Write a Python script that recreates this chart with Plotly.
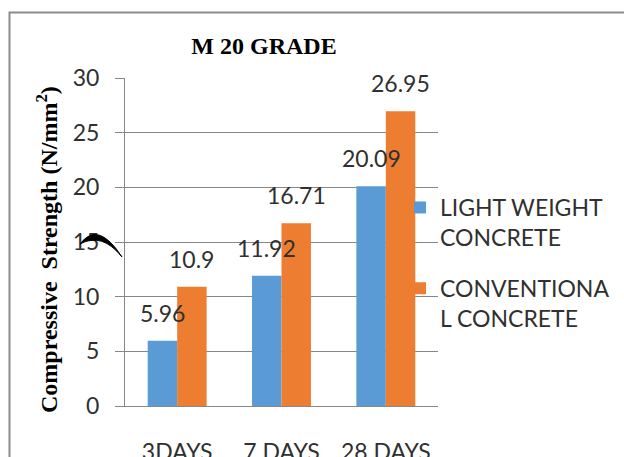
import plotly.graph_objects as go

categories = ["3DAYS", "7 DAYS", "28 DAYS"]
light_weight = [5.96, 11.92, 20.09]
conventional = [10.9, 16.71, 26.95]
series_names = ["LIGHT WEIGHT<br>CONCRETE", "CONVENTIONA<br>L CONCRETE"]
series_colors = ["#5B9BD5", "#ED7D31"]
y_ticks = [0, 5, 10, 15, 20, 25, 30]

W, H = 624, 457
ML, MT = 125, 78
PW, PH = 313, 328
MR, MB = W - ML - PW, H - MT - PH


def px(x):
    return (x - ML) / PW


def py(y):
    return (H - MB - y) / PH


TXT = "#303030"
GRID = "#878787"
FONT = "Lato"

fig = go.Figure()
for name, vals, col in zip(series_names, [light_weight, conventional], series_colors):
    fig.add_trace(go.Bar(x=categories, y=vals, name=name, marker_color=col,
                         marker_line_width=0, legendgroup=name))

# data labels
bar_px = PW / len(categories) * (1 - 0.435) / 2
for i, vals in enumerate([light_weight, conventional]):
    shift = (-0.5 if i == 0 else 0.5) * bar_px
    for c, v in zip(categories, vals):
        fig.add_annotation(x=c, y=v, text=f"{v:g}", showarrow=False,
                           xshift=shift, yshift=12, yanchor="bottom",
                           font=dict(family=FONT, size=23, color=TXT))

# y-axis title
fig.add_annotation(xref="paper", yref="paper", x=px(47), y=py(250),
                   xanchor="center", yanchor="middle",
                   text="Compressive\u00a0 Strength (N/mm<sup>2</sup>)",
                   textangle=-90, showarrow=False,
                   font=dict(family="Liberation Serif", size=24, color="#000000",
                             weight="bold"))

# outer chart frame (left and top edges; others lie outside the picture)
frame = (f"M {px(9.5)},{py(470)} L {px(9.5)},{py(12.5)} L {px(640)},{py(12.5)}")
fig.add_shape(type="path", xref="paper", yref="paper", path=frame,
              line=dict(color="#8c8c8c", width=2), layer="above")

# stray crescent mark near the axis
pts = [(80, 244), (98, 220), (122, 257), (102, 232), (80, 244)]
path = (f"M {px(pts[0][0])},{py(pts[0][1])} Q {px(pts[1][0])},{py(pts[1][1])} "
        f"{px(pts[2][0])},{py(pts[2][1])} Q {px(pts[3][0])},{py(pts[3][1])} "
        f"{px(pts[4][0])},{py(pts[4][1])} Z")
fig.add_shape(type="path", xref="paper", yref="paper", path=path,
              fillcolor="#000000", line=dict(color="#000000", width=1), layer="above")

fig.update_layout(
    width=W, height=H,
    margin=dict(l=ML, r=MR, t=MT, b=MB, autoexpand=False),
    paper_bgcolor="white", plot_bgcolor="white",
    barmode="group", bargap=0.435, bargroupgap=0,
    hovermode=False,
    title=dict(text="<b>M 20 GRADE</b>", x=264 / W, xanchor="center",
               y=1 - 46 / H, yanchor="middle",
               font=dict(family="Liberation Serif", size=24, color="#000000")),
    showlegend=True,
    legend=dict(x=px(400), y=py(186), xanchor="left", yanchor="top",
                bgcolor="rgba(0,0,0,0)", valign="top",
                font=dict(family=FONT, size=23, color=TXT),
                traceorder="grouped", tracegroupgap=18),
    xaxis=dict(showline=True, linecolor=GRID, linewidth=1, ticks="",
               showgrid=False, automargin=False, ticklabelstandoff=25,
               tickfont=dict(family=FONT, size=23, color=TXT)),
    yaxis=dict(range=[0, 30], tickvals=y_ticks, showline=True, linecolor=GRID,
               linewidth=1, ticks="outside", ticklen=9, tickcolor=GRID,
               showgrid=True, gridcolor=GRID, gridwidth=1, zeroline=False,
               automargin=False, ticklabelstandoff=11,
               tickfont=dict(family=FONT, size=23, color=TXT)),
)

fig.write_html(
    "out.html",
    config={"displayModeBar": False},
    post_script=("document.body.style.margin='0';"
                 "document.body.style.overflow='hidden';"
                 "document.documentElement.style.overflow='hidden';"),
)
